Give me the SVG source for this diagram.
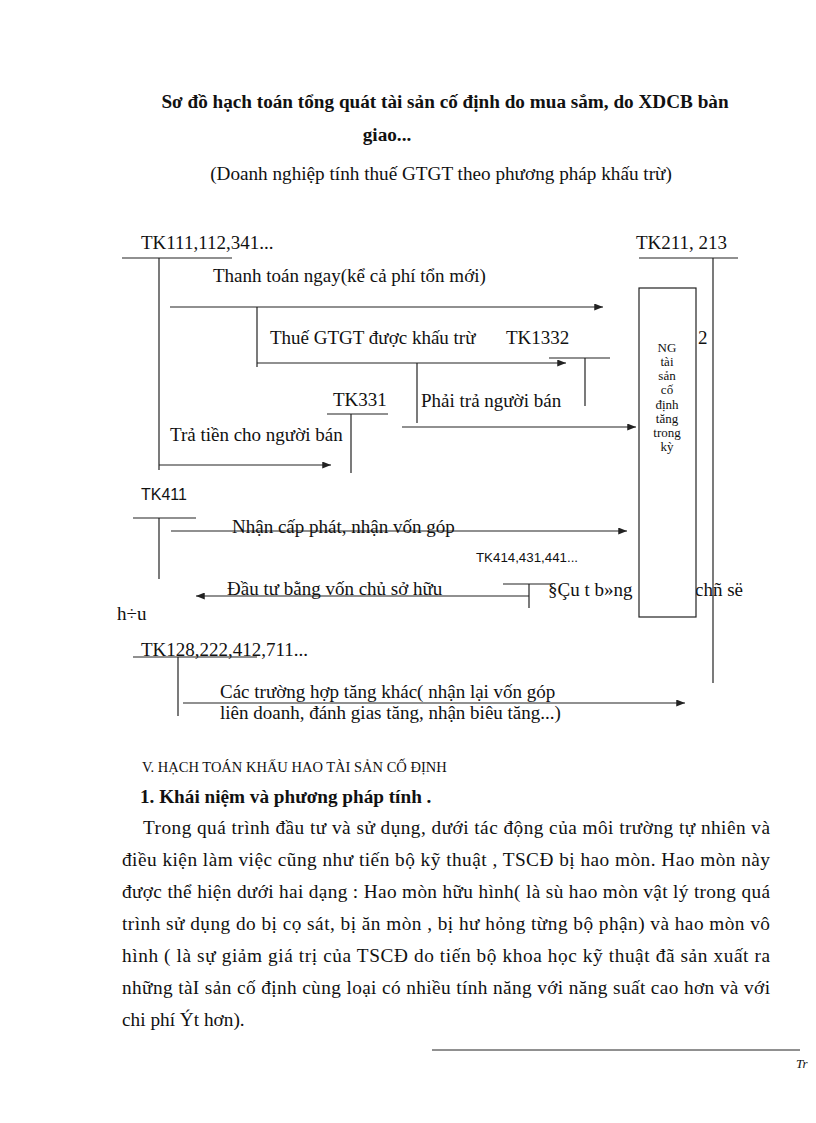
<svg xmlns="http://www.w3.org/2000/svg" width="816" height="1123" viewBox="0 0 816 1123">
<style>
text{font-family:"Liberation Serif","Times New Roman",serif;fill:#111;}
.t{font-size:19px;}
.b{font-weight:bold;font-size:19.2px;}
.s{font-family:"Liberation Sans",Arial,sans-serif;font-size:13.3px;}
.s14{font-family:"Liberation Sans",Arial,sans-serif;font-size:16px;}
.box{font-size:13px;text-anchor:middle;}
.p{font-size:19.3px;}
.ln{stroke:#222;stroke-width:1.2;fill:none;}
.ar{stroke:#222;stroke-width:1.2;fill:none;marker-end:url(#ah);}
</style>
<defs>
<marker id="ah" viewBox="0 0 10 8" refX="10" refY="4" markerWidth="9" markerHeight="7" markerUnits="userSpaceOnUse" orient="auto">
<path d="M0,0 L10,4 L0,8 Z" fill="#222"/>
</marker>
</defs>
<rect width="816" height="1123" fill="#fff"/>

<g id="title">
<text class="b" x="445" y="108" text-anchor="middle">Sơ đồ hạch toán tổng quát tài sản cố định do mua sắm, do XDCB bàn</text>
<text class="b" x="387" y="141" text-anchor="middle">giao...</text>
<text class="t" x="441" y="180" text-anchor="middle" style="font-size:19.2px">(Doanh nghiệp  tính thuế GTGT theo phương pháp khấu trừ)</text>
</g>

<g id="tk111">
<text class="t" x="141" y="249">TK111,112,341...</text>
<line class="ln" x1="122" y1="258" x2="232" y2="258"/>
<line class="ln" x1="159" y1="258" x2="159" y2="470"/>
</g>

<g id="tk1332">
<text class="t" x="506" y="344">TK1332</text>
<line class="ln" x1="549" y1="358" x2="610" y2="358"/>
<line class="ln" x1="585" y1="358" x2="585" y2="406"/>
</g>

<g id="tk331">
<text class="t" x="333" y="406">TK331</text>
<line class="ln" x1="327" y1="414" x2="388" y2="414"/>
<line class="ln" x1="351" y1="414" x2="351" y2="473"/>
</g>

<g id="tk411">
<text class="s14" x="141" y="500">TK411</text>
<line class="ln" x1="133" y1="518" x2="196" y2="518"/>
<line class="ln" x1="159" y1="518" x2="159" y2="579"/>
</g>

<g id="tk414">
<text class="s" x="476" y="562">TK414,431,441...</text>
<line class="ln" x1="503" y1="584" x2="553" y2="584"/>
<line class="ln" x1="529" y1="584" x2="529" y2="608"/>
<text class="t" x="548" y="596">§Çu  t   b»ng</text>
<text class="t" x="695" y="596">chñ  së</text>
<text class="t" x="117" y="620">h÷u</text>
</g>

<g id="tk128">
<text class="t" x="141" y="656">TK128,222,412,711...</text>
<line class="ln" x1="133" y1="657" x2="257" y2="657"/>
<line class="ln" x1="178" y1="657" x2="178" y2="716"/>
</g>

<g id="tk211">
<text class="t" x="636" y="249">TK211, 213</text>
<line class="ln" x1="639" y1="258" x2="738" y2="258"/>
<line class="ln" x1="713" y1="258" x2="713" y2="683"/>
<rect x="639" y="288" width="57" height="329" fill="#fff" stroke="#222" stroke-width="1.2"/>
<text class="box" x="667" y="352">NG</text>
<text class="box" x="667" y="366">tài</text>
<text class="box" x="667" y="380">sản</text>
<text class="box" x="667" y="394">cố</text>
<text class="box" x="667" y="409">định</text>
<text class="box" x="667" y="423">tăng</text>
<text class="box" x="667" y="437">trong</text>
<text class="box" x="667" y="451">kỳ</text>
<text class="t" x="698" y="344">2</text>
</g>

<g id="connectors">
<line class="ar" x1="170" y1="307" x2="603" y2="307"/>
<line class="ln" x1="257" y1="307" x2="257" y2="367"/>
<line class="ar" x1="257" y1="363" x2="566" y2="363"/>
<line class="ln" x1="417" y1="363" x2="417" y2="423"/>
<line class="ar" x1="402" y1="427" x2="636" y2="427"/>
<line class="ar" x1="159" y1="465" x2="331" y2="465"/>
<line class="ar" x1="171" y1="531" x2="627" y2="531"/>
<line class="ar" x1="529" y1="596" x2="196" y2="596"/>
<line class="ar" x1="183" y1="703" x2="685" y2="703"/>
</g>

<g id="labels">
<text class="t" x="213" y="282">Thanh toán ngay(kể  cả phí tổn mới)</text>
<text class="t" x="270" y="344">Thuế GTGT được khấu trừ</text>
<text class="t" x="421" y="407">Phải trả người  bán</text>
<text class="t" x="170" y="441">Trả tiền  cho người  bán</text>
<text class="t" x="232" y="533">Nhận cấp phát, nhận vốn góp</text>
<text class="t" x="227" y="595">Đầu tư bằng vốn chủ sở hữu</text>
<text class="t" x="220" y="698">Các trường hợp tăng khác( nhận lại vốn góp</text>
<text class="t" x="220" y="719">liên  doanh, đánh gias tăng, nhận biêu tăng...)</text>
</g>

<g id="body">
<text x="142" y="772" style="font-size:14.5px">V. HẠCH TOÁN KHẤU HAO TÀI SẢN CỐ ĐỊNH</text>
<text class="b" x="140" y="803">1. Khái niệm và phương pháp  tính .</text>
<text class="p" x="143" y="834" textLength="627" lengthAdjust="spacing">Trong quá trình đầu tư và sử dụng, dưới tác động của môi trường tự nhiên  và</text>
<text class="p" x="122" y="866" textLength="648" lengthAdjust="spacing">điều kiện  làm việc  cũng như tiến bộ kỹ thuật  , TSCĐ bị hao mòn. Hao mòn này</text>
<text class="p" x="122" y="898" textLength="648" lengthAdjust="spacing">được thể hiện  dưới hai  dạng : Hao mòn hữu hình( là  sù hao mòn vật lý trong quá</text>
<text class="p" x="122" y="930" textLength="648" lengthAdjust="spacing">trình sử dụng do bị cọ sát, bị ăn mòn , bị hư hỏng từng bộ phận) và hao mòn vô</text>
<text class="p" x="122" y="962" textLength="648" lengthAdjust="spacing">hình ( là sự giảm  giá  trị  của TSCĐ do tiến  bộ khoa học kỹ thuật  đã sản xuất ra</text>
<text class="p" x="122" y="994" textLength="648" lengthAdjust="spacing">những tàI sản cố định  cùng loại  có nhiều  tính năng với năng suất  cao hơn và với</text>
<text class="p" x="122" y="1026">chi phí Ýt hơn).</text>
</g>

<g id="footer">
<line x1="432" y1="1050" x2="800" y2="1050" stroke="#222" stroke-width="1"/>
<text x="796" y="1068" style="font-size:13px;font-style:italic">Tr</text>
</g>
</svg>
